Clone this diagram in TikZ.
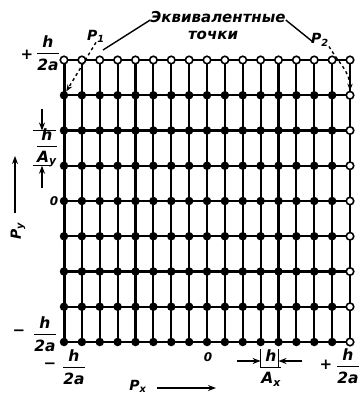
\documentclass[tikz,border=0pt]{standalone}
\usepackage{amsmath}
\usepackage{fontspec}
\setmainfont{DejaVu Sans}
\usetikzlibrary{arrows.meta, positioning}

\newcommand{\hfr}[2]{$\genfrac{}{}{1.4pt}{0}{\hbox{#1}}{\hbox{#2}}$}

\begin{document}
\begin{tikzpicture}[
    x=1pt, y=-1pt,
    every node/.style={font=\bfseries\itshape\fontsize{14}{16}\selectfont, inner sep=0pt},
    frac/.style={font=\bfseries\itshape\fontsize{15.5}{17}\selectfont},
    sign/.style={font=\bfseries\fontsize{15}{17}\selectfont},
    grid/.style={line width=2.2pt},
    full/.style={circle, fill=black, minimum size=8.5pt},
    hollow/.style={circle, draw=black, fill=white, line width=1.6pt, minimum size=7.5pt},
    lead/.style={line width=1.4pt},
    tick/.style={line width=1.4pt},
    dasharrow/.style={line width=1.4pt, dashed, -{Stealth[length=7pt]}},
    arrow/.style={line width=1.6pt, -{Stealth[length=8pt]}}
]
\useasboundingbox (0,0) rectangle (361,404);

% lattice points
\foreach \i in {0,...,16} {
  \foreach \j in {0,...,8} {
    \coordinate (g-\i-\j) at ({64+17.875*\i}, {60+35.25*\j});
  }
}
\foreach \i in {0,...,16} \draw[grid] (g-\i-0) -- (g-\i-8);
\foreach \j in {0,...,8} \draw[grid] (g-0-\j) -- (g-16-\j);
\draw[line width=3pt] (g-0-0) -- (g-0-8);

\foreach \i in {0,...,15} {
  \foreach \j in {1,...,8} {
    \node[full] (d-\i-\j) at (g-\i-\j) {};
  }
}
\foreach \i in {0,...,16} \node[hollow] (d-\i-0) at (g-\i-0) {};
\foreach \j in {1,...,8} \node[hollow] (d-16-\j) at (g-16-\j) {};

% edge labels
\node[frac] (ytop)  at (48,53)  {\hfr{h}{2a}};
\node[sign] (ytopS) at (27,55)  {+};
\node[frac] (ybot)  at (45,334) {\hfr{h}{2a}};
\node[sign] (ybotS) at (19,333) {−};
\node[frac] (xlft)  at (74,367) {\hfr{h}{2a}};
\node[sign] (xlftS) at (50,366) {−};
\node[frac] (xrgt)  at (348,366) {\hfr{h}{2a}};
\node[sign] (xrgtS) at (326,365) {+};
\node[font=\bfseries\itshape\fontsize{12}{14}\selectfont] (yzero) at (54,201) {0};
\node[font=\bfseries\itshape\fontsize{12}{14}\selectfont] (xzero) at (208,357) {0};

% step in y
\node[frac] (dy) at (47,148) {\hfr{h}{A\textsubscript{y}}};
\coordinate (dyA) at (33,130.5);  \coordinate (dyB) at (56,130.5);
\coordinate (dyC) at (33,165.75); \coordinate (dyD) at (50,165.75);
\draw[tick] (dyA) -- (dyB);
\draw[tick] (dyC) -- (dyD);
\coordinate (dyT) at (42,109);
\coordinate (dyU) at (42,188);
\draw[arrow] (dyT) -- (42,130.5);
\draw[arrow] (dyU) -- (42,165.75);

% step in x
\node[frac] (dx) at (271,368) {\hfr{h}{A\textsubscript{x}}};
\coordinate (dxA) at (260.6,349); \coordinate (dxB) at (260.6,368);
\coordinate (dxC) at (278.5,349); \coordinate (dxD) at (278.5,368);
\draw[tick] (dxA) -- (dxB);
\draw[tick] (dxC) -- (dxD);
\coordinate (dxL) at (237,361);
\coordinate (dxR) at (302,361);
\draw[arrow] (dxL) -- (260.6,361);
\draw[arrow] (dxR) -- (278.5,361);

% axes
\node (px) at (138,386) {P\textsubscript{x}};
\coordinate (pxA) at (157,388);
\coordinate (pxB) at (216,388);
\draw[arrow] (pxA) -- (pxB);
\node[rotate=90] (py) at (18,231) {P\textsubscript{y}};
\coordinate (pyA) at (15,213);
\coordinate (pyB) at (15,156);
\draw[arrow] (pyA) -- (pyB);

% equivalent points
\node[font=\bfseries\itshape\fontsize{15}{17}\selectfont] (eq1) at (218,17) {Эквивалентные};
\node[font=\bfseries\itshape\fontsize{15}{17}\selectfont] (eq2) at (213,35) {точки};
\node (P1) at (96,36) {P\textsubscript{1}};
\node (P2) at (320,40) {P\textsubscript{2}};
\coordinate (l1) at (103,50);
\coordinate (l2) at (313,42);
\draw[lead] ([yshift=-3pt]eq1.west) -- (l1);
\draw[lead] ([yshift=-3pt]eq1.east) -- (l2);
\draw[dasharrow] (P1.south) -- (d-0-1);
\draw[dasharrow] (P2.south east) to[out=-60, in=90] (d-16-1);

\end{tikzpicture}
\end{document}
